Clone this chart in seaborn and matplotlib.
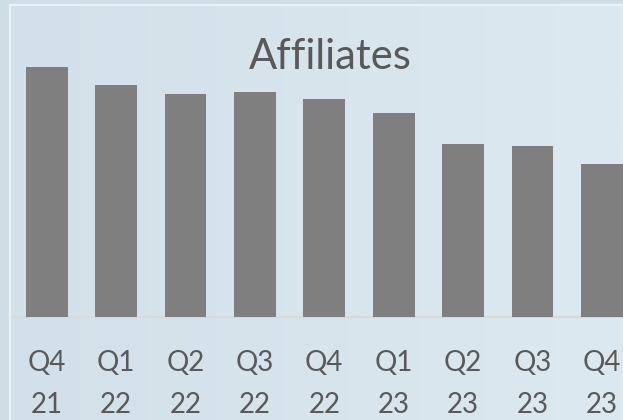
import numpy as np
import pandas as pd
import matplotlib
matplotlib.use("Agg")
import matplotlib.pyplot as plt
from matplotlib.colors import LinearSegmentedColormap
import seaborn as sns

quarters = ['Q4\n21', 'Q1\n22', 'Q2\n22', 'Q3\n22', 'Q4\n22', 'Q1\n23', 'Q2\n23', 'Q3\n23', 'Q4\n23']
affiliates = [250, 232, 223, 225, 218, 204, 173, 171, 153]

sns.set_theme(style='white')
plt.rcParams['font.family'] = ['Lato', 'DejaVu Sans']

text_col = '#595959'
W, H = 623, 420

df = pd.DataFrame({'quarter': quarters, 'affiliates': affiliates})

fig = plt.figure(figsize=(W / 100, H / 100), dpi=100, facecolor='#cfdde6')

# gradient panel behind the chart
bg = fig.add_axes([10 / W, 0, 1 - 10 / W, (H - 5) / H])
grad = np.linspace(0, 1, 256).reshape(1, -1)
cmap = LinearSegmentedColormap.from_list('bg', ['#d2e0e9', '#dde9f0'])
bg.imshow(grad, aspect='auto', cmap=cmap, extent=[0, 1, 0, 1])
bg.set_xlim(0, 1)
bg.set_ylim(0, 1)
bg.set_xticks([])
bg.set_yticks([])
for side in ['right', 'bottom']:
    bg.spines[side].set_visible(False)
for side in ['left', 'top']:
    bg.spines[side].set_color('#ebf1f5')
    bg.spines[side].set_linewidth(1.6)

ax = fig.add_axes([12 / W, 103.3 / H, 611 / W, 311.7 / H])
ax.patch.set_alpha(0)
sns.barplot(data=df, x='quarter', y='affiliates', color='#7f7f7f', saturation=1,
            width=0.6, linewidth=0, ax=ax, zorder=2)
ax.axhline(0, color='#d9d9d9', lw=1.6, zorder=1, clip_on=False)
ax.set_xlim(-0.5, 8.304)
ax.set_ylim(0, 311.7)
ax.set_xlabel('')
ax.set_ylabel('')
ax.set_yticks([])
ax.tick_params(axis='x', length=0, pad=24, labelsize=20, labelcolor=text_col)
for lbl in ax.get_xticklabels():
    lbl.set_linespacing(1.75)
sns.despine(ax=ax, left=True, bottom=True)

fig.text(330 / W, (H - 69.3) / H, 'Affiliates', ha='center', va='baseline',
         fontsize=30, color=text_col)

fig.savefig('out.png', dpi=100, facecolor=fig.get_facecolor())
